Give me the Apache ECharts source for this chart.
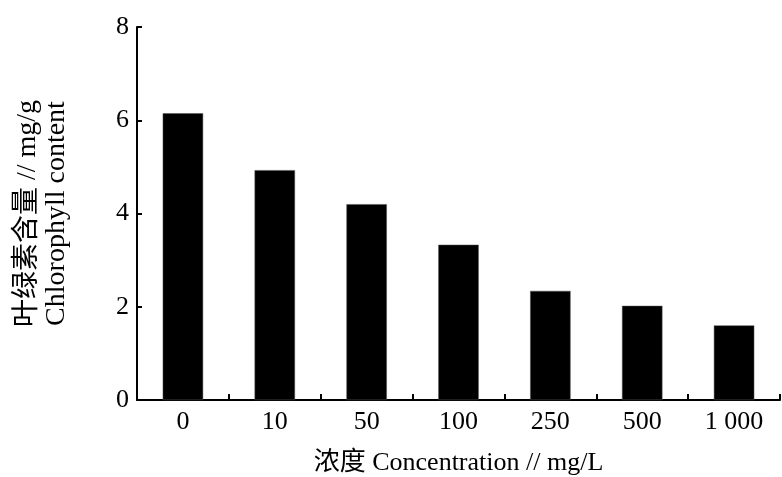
<!DOCTYPE html>
<html>
<head>
<meta charset="utf-8">
<script src="https://cdn.jsdelivr.net/npm/echarts@6/dist/echarts.min.js"></script>
<style>html,body{margin:0;padding:0;background:#fff;}#chart{width:782px;height:477px;}</style>
</head>
<body>
<div id="chart"></div>
<script>
const categories = ['0', '10', '50', '100', '250', '500', '1 000'];
const values = [6.15, 4.93, 4.2, 3.33, 2.34, 2.02, 1.6];
const yTicks = { min: 0, max: 8, interval: 2 };
const xName = '浓度 Concentration // mg/L';
const yName = '叶绿素含量 // mg/g\nChlorophyll content';

const FONT = '"Liberation Serif", "Noto Sans CJK SC", serif';
const chart = echarts.init(document.getElementById('chart'));
chart.setOption({
  backgroundColor: '#fff',
  animation: false,
  grid: { left: 137, right: 2, top: 27, bottom: 77, containLabel: false, outerBoundsMode: 'none' },
  xAxis: {
    type: 'category',
    data: categories,
    boundaryGap: true,
    name: xName,
    nameLocation: 'middle',
    nameGap: 50,
    nameTextStyle: { fontFamily: FONT, fontSize: 26, color: '#000' },
    axisLine: { lineStyle: { color: '#000', width: 2 } },
    axisTick: { show: true, inside: true, length: 6, alignWithLabel: false, lineStyle: { color: '#000', width: 2 } },
    axisLabel: { fontFamily: FONT, fontSize: 26, color: '#000', margin: 9 },
    splitLine: { show: false }
  },
  yAxis: {
    type: 'value',
    min: yTicks.min,
    max: yTicks.max,
    interval: yTicks.interval,
    name: yName,
    nameLocation: 'middle',
    nameRotate: 90,
    nameGap: 66,
    nameTextStyle: { fontFamily: FONT, fontSize: 28, color: '#000', lineHeight: 29 },
    axisLine: { show: true, lineStyle: { color: '#000', width: 2 } },
    axisTick: { show: true, inside: true, length: 5, lineStyle: { color: '#000', width: 2 } },
    axisLabel: { fontFamily: FONT, fontSize: 26, color: '#000', margin: 8 },
    splitLine: { show: false }
  },
  series: [{
    type: 'bar',
    data: values,
    barWidth: '44%',
    itemStyle: { color: '#000', borderColor: '#555', borderWidth: 0.5 }
  }]
});
</script>
</body>
</html>
